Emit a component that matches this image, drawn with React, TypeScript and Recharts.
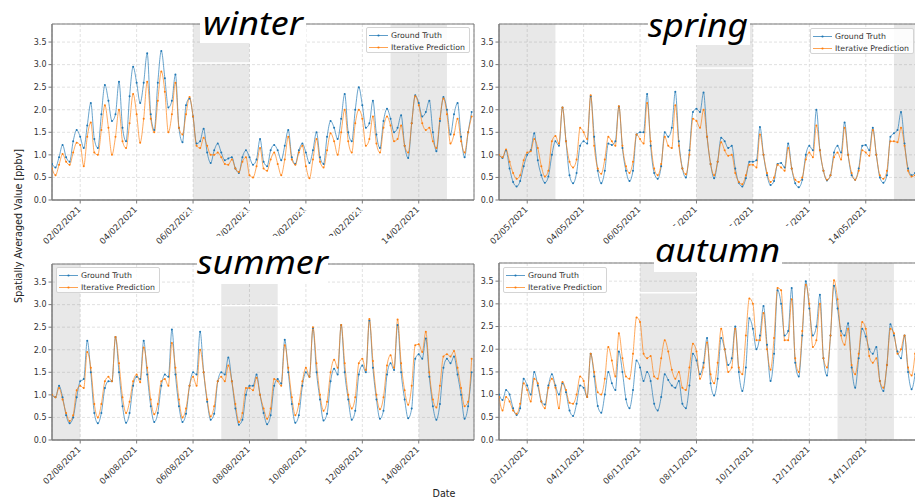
import React from 'react';
import { LineChart, Line, XAxis, YAxis, CartesianGrid, ReferenceArea } from 'recharts';

// 3-hourly samples over 15 days (hours since the first midnight)
const HOURS: number[] = Array.from({ length: 120 }, (_, i) => i * 3);
const TICK_HOURS = [24, 72, 120, 168, 216, 264, 312];
const Y_TICKS = [0, 0.5, 1, 1.5, 2, 2.5, 3, 3.5];

const winterTicks = ['02/02/2021', '04/02/2021', '06/02/2021', '08/02/2021', '10/02/2021', '12/02/2021', '14/02/2021'];
const springTicks = ['02/05/2021', '04/05/2021', '06/05/2021', '08/05/2021', '10/05/2021', '12/05/2021', '14/05/2021'];
const summerTicks = ['02/08/2021', '04/08/2021', '06/08/2021', '08/08/2021', '10/08/2021', '12/08/2021', '14/08/2021'];
const autumnTicks = ['02/11/2021', '04/11/2021', '06/11/2021', '08/11/2021', '10/11/2021', '12/11/2021', '14/11/2021'];

// weekend spans, in hours
const winterWeekends = [[120, 168], [288, 336]];
const springWeekends = [[0, 48], [168, 216], [336, 359]];
const summerWeekends = [[0, 24], [144, 192], [312, 359]];
const autumnWeekends = [[120, 168], [288, 336]];

const winterTruth = [
  0.80, 0.72, 0.95, 1.22, 0.95, 0.85, 1.30, 1.55,
  1.40, 1.15, 1.65, 2.15, 1.35, 1.15, 1.90, 2.55,
  2.20, 1.75, 1.90, 2.62, 1.60, 1.30, 2.30, 2.95,
  2.60, 2.15, 2.60, 3.25, 1.90, 1.55, 2.60, 3.30,
  2.70, 2.05, 2.20, 2.78, 1.60, 1.28, 2.10, 2.25,
  1.85, 1.25, 1.30, 1.58, 1.05, 0.82, 1.10, 1.25,
  1.05, 0.88, 0.92, 0.95, 0.70, 0.60, 0.95, 1.10,
  0.95, 0.78, 0.90, 1.35, 0.85, 0.75, 1.10, 1.22,
  1.10, 0.88, 1.20, 1.55, 0.95, 0.80, 1.10, 1.25,
  1.05, 0.82, 1.10, 1.50, 0.95, 0.80, 1.40, 1.75,
  1.60, 1.35, 1.80, 2.35, 1.50, 1.30, 2.00, 2.50,
  2.10, 1.60, 1.70, 2.20, 1.45, 1.15, 1.75, 2.02,
  1.80, 1.50, 1.60, 1.88, 1.20, 0.93, 1.70, 2.32,
  2.15, 1.85, 1.95, 2.20, 1.50, 1.08, 1.75, 2.28,
  2.00, 1.45, 1.90, 2.15, 1.40, 0.95, 1.50, 1.95,
];
const winterPred = [
  0.70, 0.55, 0.78, 1.02, 0.85, 0.78, 1.05, 1.27,
  1.22, 0.75, 1.40, 1.72, 1.05, 1.00, 1.55, 2.10,
  1.60, 1.00, 1.40, 2.00, 1.30, 1.15, 1.70, 2.35,
  1.90, 1.27, 1.80, 2.62, 1.80, 1.50, 2.20, 2.85,
  2.40, 1.50, 1.90, 2.60, 1.60, 1.45, 1.90, 2.28,
  1.85, 1.20, 1.15, 1.38, 1.20, 1.00, 1.00, 1.05,
  0.95, 0.80, 0.78, 0.90, 0.70, 0.62, 0.85, 0.95,
  0.55, 0.50, 0.75, 1.15, 0.70, 0.65, 0.90, 1.05,
  0.80, 0.55, 0.90, 1.40, 0.90, 0.78, 1.05, 1.20,
  0.75, 0.48, 0.90, 1.35, 0.85, 0.72, 1.10, 1.48,
  1.30, 1.00, 1.50, 2.00, 1.30, 1.05, 1.70, 2.00,
  1.80, 1.20, 1.35, 1.85, 1.25, 1.05, 1.60, 1.85,
  1.65, 1.30, 1.35, 1.65, 1.20, 1.05, 1.70, 2.30,
  2.10, 1.70, 1.55, 1.60, 1.30, 1.15, 1.80, 2.25,
  1.90, 1.25, 1.45, 1.80, 1.30, 1.05, 1.50, 1.85,
];

const springTruth = [
  1.00, 0.93, 1.10, 0.70, 0.40, 0.30, 0.42, 0.75,
  1.00, 1.10, 1.48, 0.88, 0.55, 0.38, 0.52, 1.00,
  1.30, 1.20, 2.05, 1.30, 0.55, 0.37, 0.60, 1.20,
  1.30, 1.25, 2.30, 1.40, 0.65, 0.37, 0.65, 1.25,
  1.22, 1.30, 2.07, 1.15, 0.65, 0.42, 0.65, 1.45,
  1.50, 1.50, 2.35, 1.20, 0.60, 0.47, 0.75, 1.50,
  1.40, 1.60, 2.40, 1.30, 0.70, 0.50, 1.10, 1.95,
  2.02, 1.95, 2.38, 1.40, 0.80, 0.48, 0.85, 1.38,
  1.30, 1.15, 1.20, 0.70, 0.38, 0.30, 0.48, 0.85,
  0.85, 0.88, 1.62, 1.00, 0.55, 0.33, 0.42, 0.80,
  0.82, 0.72, 1.25, 0.70, 0.37, 0.28, 0.45, 1.00,
  1.20, 1.10, 2.00, 1.10, 0.65, 0.43, 0.55, 1.05,
  1.20, 1.05, 1.72, 1.00, 0.55, 0.45, 0.70, 1.20,
  1.22, 1.10, 1.60, 1.00, 0.50, 0.38, 0.55, 1.40,
  1.48, 1.55, 1.95, 1.25, 0.70, 0.55, 0.60, 0.95,
];
const springPred = [
  1.00, 0.95, 1.12, 0.85, 0.60, 0.47, 0.55, 0.88,
  1.05, 1.08, 1.35, 1.15, 0.75, 0.52, 0.65, 1.30,
  1.42, 1.25, 2.05, 1.30, 0.85, 0.72, 0.90, 1.60,
  1.50, 1.35, 2.32, 1.20, 0.70, 0.58, 0.90, 1.40,
  1.30, 1.20, 2.08, 1.20, 0.75, 0.60, 0.85, 1.45,
  1.35, 1.25, 2.15, 1.30, 0.70, 0.55, 0.80, 1.40,
  1.20, 1.15, 2.10, 1.20, 0.70, 0.57, 1.00, 1.80,
  1.75, 1.60, 2.00, 1.40, 0.80, 0.55, 0.85, 1.28,
  1.10, 0.98, 1.00, 0.60, 0.40, 0.35, 0.55, 0.78,
  0.78, 0.72, 1.45, 1.00, 0.60, 0.40, 0.50, 0.78,
  0.72, 0.65, 1.15, 0.70, 0.45, 0.40, 0.50, 0.90,
  1.05, 0.95, 1.65, 1.10, 0.65, 0.45, 0.55, 0.95,
  1.05, 0.90, 1.60, 1.00, 0.60, 0.45, 0.65, 1.10,
  1.05, 0.98, 1.55, 1.00, 0.55, 0.47, 0.65, 1.30,
  1.30, 1.28, 1.60, 1.20, 0.65, 0.52, 0.55, 0.80,
];

const summerTruth = [
  1.00, 0.95, 1.20, 0.95, 0.55, 0.37, 0.50, 0.95,
  1.30, 1.35, 2.20, 1.50, 0.60, 0.37, 0.60, 1.15,
  1.30, 1.30, 2.28, 1.50, 0.75, 0.38, 0.60, 1.20,
  1.40, 1.35, 2.20, 1.45, 0.75, 0.40, 0.60, 1.20,
  1.45, 1.40, 2.45, 1.45, 0.75, 0.40, 0.58, 1.20,
  1.50, 1.45, 2.40, 1.50, 0.85, 0.45, 0.58, 1.30,
  1.50, 1.45, 1.83, 1.30, 0.70, 0.34, 0.45, 1.00,
  1.20, 1.20, 1.45, 1.00, 0.60, 0.35, 0.55, 1.20,
  1.35, 1.25, 2.22, 1.50, 0.80, 0.38, 0.55, 1.20,
  1.50, 1.40, 2.48, 1.50, 0.90, 0.43, 0.58, 1.30,
  1.58, 1.45, 2.55, 1.50, 0.90, 0.45, 0.65, 1.45,
  1.65, 1.50, 2.65, 1.60, 0.90, 0.47, 0.65, 1.45,
  1.70, 1.55, 2.55, 1.50, 0.90, 0.48, 0.70, 1.80,
  1.90, 1.80, 2.25, 1.40, 0.75, 0.45, 0.80, 1.60,
  1.80, 1.70, 1.85, 1.45, 1.00, 0.47, 0.75, 1.50,
];
const summerPred = [
  1.00, 0.95, 1.15, 0.90, 0.60, 0.42, 0.55, 1.10,
  1.20, 1.15, 1.95, 1.60, 0.80, 0.50, 0.80, 1.30,
  1.40, 1.30, 2.28, 1.70, 0.95, 0.60, 0.85, 1.30,
  1.45, 1.28, 2.05, 1.60, 0.90, 0.57, 0.80, 1.30,
  1.35, 1.20, 2.15, 1.60, 0.90, 0.50, 0.70, 1.20,
  1.40, 1.20, 2.00, 1.50, 0.90, 0.52, 0.75, 1.30,
  1.40, 1.30, 1.65, 1.30, 0.80, 0.40, 0.60, 1.15,
  1.15, 1.10, 1.38, 1.00, 0.70, 0.47, 0.70, 1.35,
  1.30, 1.20, 2.10, 1.60, 0.95, 0.55, 0.80, 1.30,
  1.60, 1.40, 2.50, 1.70, 1.00, 0.65, 0.85, 1.50,
  1.78, 1.60, 2.55, 1.70, 1.00, 0.70, 0.95, 1.70,
  1.80, 1.55, 2.68, 1.75, 1.00, 0.68, 0.95, 1.65,
  1.88, 1.60, 2.67, 1.70, 1.10, 0.78, 1.20, 2.10,
  2.12, 1.95, 2.40, 1.50, 0.90, 0.72, 1.20, 1.85,
  1.90, 1.85, 1.97, 1.60, 1.15, 0.75, 0.85, 1.80,
];

const autumnTruth = [
  1.00, 0.88, 1.10, 1.00, 0.70, 0.55, 0.70, 1.35,
  1.20, 1.00, 1.50, 1.20, 0.85, 0.78, 1.20, 1.45,
  1.20, 1.00, 1.25, 1.05, 0.65, 0.53, 0.80, 1.20,
  1.15, 0.95, 1.90, 1.40, 0.75, 0.60, 1.00, 1.50,
  1.25, 1.10, 1.95, 1.50, 0.90, 0.70, 1.10, 1.75,
  1.60, 1.30, 1.50, 1.30, 0.80, 0.65, 0.95, 1.45,
  1.32, 1.20, 1.15, 1.30, 0.80, 0.70, 1.20, 1.90,
  1.75, 1.45, 1.70, 2.25, 1.25, 0.98, 1.35, 2.25,
  2.00, 1.65, 1.80, 2.50, 1.50, 1.08, 1.60, 2.68,
  2.45, 2.00, 2.30, 2.95, 2.10, 1.30, 1.90, 3.30,
  3.00, 2.30, 2.40, 3.35, 1.70, 1.40, 2.30, 3.50,
  2.90, 2.30, 2.50, 3.20, 1.80, 1.42, 2.30, 3.40,
  2.90, 2.40, 2.30, 2.57, 1.60, 1.15, 1.80, 2.45,
  2.28, 2.00, 1.90, 2.05, 1.30, 1.08, 1.65, 2.55,
  2.30, 1.95, 1.80, 2.30, 1.50, 1.12, 1.45, 2.10,
];
const autumnPred = [
  0.95, 0.65, 0.95, 0.85, 0.65, 0.58, 0.80, 1.25,
  1.10, 0.85, 1.35, 1.25, 0.85, 0.70, 1.15, 1.35,
  1.15, 0.70, 1.28, 1.10, 0.82, 0.80, 1.00, 1.40,
  1.30, 0.95, 1.90, 1.50, 1.05, 1.00, 1.35, 2.05,
  1.75, 1.40, 2.35, 1.80, 1.40, 1.35, 1.90, 2.70,
  2.60, 1.90, 1.80, 1.85, 1.40, 1.35, 1.80, 2.20,
  1.95, 1.55, 1.35, 1.50, 1.15, 1.10, 1.60, 2.12,
  1.95, 1.35, 1.60, 2.15, 1.45, 1.25, 1.70, 2.45,
  2.00, 1.50, 1.60, 2.45, 1.60, 1.45, 2.30, 3.12,
  3.00, 2.20, 2.20, 2.80, 2.00, 1.55, 2.25, 3.35,
  3.30, 2.20, 2.20, 3.10, 1.80, 1.50, 2.40, 3.42,
  3.00, 2.05, 2.20, 3.00, 1.80, 1.60, 2.30, 3.52,
  3.10, 2.30, 2.10, 2.45, 1.65, 1.45, 1.90, 2.60,
  2.45, 1.85, 1.70, 1.80, 1.30, 1.15, 1.65, 2.45,
  2.35, 1.90, 2.00, 2.30, 1.60, 1.42, 1.90, 2.65,
];

const BLUE = '#1f77b4';
const ORANGE = '#ff7f0e';
const SPINE = '#7a7a7a';
const TEXT = '#333333';
const FONT = '"DejaVu Sans", sans-serif';

const makeRows = (truth: number[], pred: number[]) =>
  HOURS.map((t, i) => ({ t, gt: truth[i], pred: pred[i] }));

const makeDateTick = (labels: string[]) => (props: any) => {
  const { x, y, payload } = props;
  const idx = TICK_HOURS.indexOf(payload.value);
  const ey = y + 5.5;
  return (
    <text
      x={x + 1}
      y={ey}
      textAnchor="end"
      fontSize={8.5}
      fontFamily={FONT}
      fill={TEXT}
      transform={`rotate(-45 ${x + 1} ${ey})`}
    >
      {labels[idx]}
    </text>
  );
};

type PanelProps = {
  left: number;
  top: number;
  width: number;
  height: number;
  margin: { top: number; right: number; bottom: number; left: number };
  truth: number[];
  pred: number[];
  ticks: string[];
  weekends: number[][];
  legendLeft: number;
  legendTop: number;
};

const LegendBox = ({ left, top }: { left: number; top: number }) => (
  <div
    style={{
      position: 'absolute',
      left,
      top,
      width: 104,
      height: 26,
      boxSizing: 'border-box',
      border: '1px solid #d4d4d4',
      borderRadius: 2,
      background: 'rgba(255,255,255,0.85)',
      fontFamily: FONT,
      fontSize: 7.8,
      color: TEXT,
    }}
  >
    {[
      { name: 'Ground Truth', color: BLUE },
      { name: 'Iterative Prediction', color: ORANGE },
    ].map((item, i) => (
      <div
        key={item.name}
        style={{ position: 'absolute', left: 0, top: 1.5 + i * 12, height: 11, display: 'flex', alignItems: 'center' }}
      >
        <svg width={23} height={11} style={{ display: 'block' }}>
          <line x1={2} y1={5.5} x2={21} y2={5.5} stroke={item.color} strokeWidth={0.9} strokeOpacity={0.8} />
          <circle cx={11.5} cy={5.5} r={1.1} fill={item.color} />
        </svg>
        <span style={{ marginLeft: 1, whiteSpace: 'nowrap', lineHeight: '11px' }}>{item.name}</span>
      </div>
    ))}
  </div>
);

const Panel = (p: PanelProps) => {
  const rows = makeRows(p.truth, p.pred);
  return (
    <div style={{ position: 'absolute', left: p.left, top: p.top, width: p.width, height: p.height }}>
      <LineChart width={p.width} height={p.height} data={rows} margin={p.margin}>
        {p.weekends.map(([a, b]) => (
          <ReferenceArea key={a} x1={a} x2={b} y1={0} y2={3.9} fill="#808080" fillOpacity={0.18} stroke="none" />
        ))}
        <CartesianGrid stroke="#d4d4d4" strokeDasharray="3 2" strokeWidth={0.7} />
        <XAxis
          dataKey="t"
          type="number"
          domain={[0, 359]}
          allowDataOverflow
          ticks={TICK_HOURS}
          interval={0}
          height={40}
          tickSize={3.5}
          tickMargin={1}
          tick={makeDateTick(p.ticks)}
          axisLine={{ stroke: SPINE, strokeWidth: 1 }}
          tickLine={{ stroke: SPINE }}
        />
        <YAxis
          type="number"
          domain={[0, 3.9]}
          allowDataOverflow
          ticks={Y_TICKS}
          interval={0}
          width={40}
          tickSize={3.5}
          tickMargin={2}
          tickFormatter={(v: number) => v.toFixed(1)}
          tick={{ fontSize: 8, fill: TEXT, fontFamily: FONT }}
          axisLine={{ stroke: SPINE, strokeWidth: 1 }}
          tickLine={{ stroke: SPINE }}
        />
        <Line
          type="monotone"
          dataKey="gt"
          stroke={BLUE}
          strokeWidth={0.9}
          strokeOpacity={0.75}
          dot={{ r: 1, fill: BLUE, stroke: 'none' }}
          activeDot={false}
          isAnimationActive={false}
        />
        <Line
          type="monotone"
          dataKey="pred"
          stroke={ORANGE}
          strokeWidth={0.9}
          strokeOpacity={0.75}
          dot={{ r: 1, fill: ORANGE, stroke: 'none' }}
          activeDot={false}
          isAnimationActive={false}
        />
        <ReferenceArea x1={0} x2={359} y1={0} y2={3.9} fill="none" stroke={SPINE} strokeWidth={1} />
      </LineChart>
      <LegendBox left={p.legendLeft} top={p.legendTop} />
    </div>
  );
};

const Title = ({ x, y, len, text }: { x: number; y: number; len: number; text: string }) => (
  <text
    x={x}
    y={y}
    textAnchor="middle"
    fontFamily='"Noto Sans", "DejaVu Sans", sans-serif'
    fontStyle="italic"
    fontSize={33}
    fill="#000"
    textLength={len}
    lengthAdjust="spacingAndGlyphs"
  >
    {text}
  </text>
);

export default function App() {
  return (
    <div
      style={{
        position: 'fixed',
        left: 0,
        top: 0,
        width: 915,
        height: 500,
        overflow: 'hidden',
        background: '#ffffff',
        fontFamily: FONT,
      }}
    >
      <Panel
        left={0}
        top={0}
        width={480}
        height={245}
        margin={{ top: 24, right: 6, bottom: 5, left: 12 }}
        truth={winterTruth}
        pred={winterPred}
        ticks={winterTicks}
        weekends={winterWeekends}
        legendLeft={366}
        legendTop={27}
      />
      <Panel
        left={455}
        top={0}
        width={466}
        height={245}
        margin={{ top: 24, right: 0, bottom: 5, left: 4 }}
        truth={springTruth}
        pred={springPred}
        ticks={springTicks}
        weekends={springWeekends}
        legendLeft={355}
        legendTop={28}
      />
      <Panel
        left={0}
        top={245}
        width={480}
        height={255}
        margin={{ top: 19, right: 6, bottom: 20, left: 12 }}
        truth={summerTruth}
        pred={summerPred}
        ticks={summerTicks}
        weekends={summerWeekends}
        legendLeft={56}
        legendTop={22}
      />
      <Panel
        left={455}
        top={245}
        width={466}
        height={255}
        margin={{ top: 18, right: 0, bottom: 20, left: 4 }}
        truth={autumnTruth}
        pred={autumnPred}
        ticks={autumnTicks}
        weekends={autumnWeekends}
        legendLeft={48}
        legendTop={22}
      />
      <svg
        width={915}
        height={500}
        style={{ position: 'absolute', left: 0, top: 0, pointerEvents: 'none' }}
      >
        {/* winter heading */}
        <rect x={200} y={0} width={106} height={43} fill="#fff" />
        <rect x={193} y={62.3} width={57} height={1.5} fill="#fff" />
        <rect x={183} y={210.5} width={184} height={1.4} fill="#fff" />
        <Title x={253} y={35} len={100} text="winter" />
        {/* spring heading */}
        <rect x={648} y={0} width={102} height={45} fill="#fff" />
        <rect x={696} y={67.3} width={57} height={1.5} fill="#fff" />
        <Title x={698} y={36.5} len={100} text="spring" />
        {/* summer heading */}
        <rect x={178} y={236} width={184} height={26} fill="#fff" />
        <rect x={197} y={236} width={131} height={48} fill="#fff" />
        <rect x={222} y={304.8} width={57} height={1.5} fill="#fff" />
        <Title x={262.5} y={274} len={131} text="summer" />
        {/* autumn heading */}
        <rect x={637} y={226} width={183} height={35} fill="#fff" />
        <rect x={654} y={226} width={128} height={46} fill="#fff" />
        <rect x={639} y={292} width={57} height={1.5} fill="#fff" />
        <Title x={717.5} y={262} len={125} text="autumn" />
        {/* shared axis titles */}
        <text
          transform="translate(18 226) rotate(-90)"
          textAnchor="middle"
          dominantBaseline="central"
          fontSize={9.6}
          fontFamily={FONT}
          fill="#222"
        >
          Spatially Averaged Value [ppbv]
        </text>
        <text x={444} y={497} textAnchor="middle" fontSize={9.6} fontFamily={FONT} fill="#222">
          Date
        </text>
      </svg>
    </div>
  );
}
